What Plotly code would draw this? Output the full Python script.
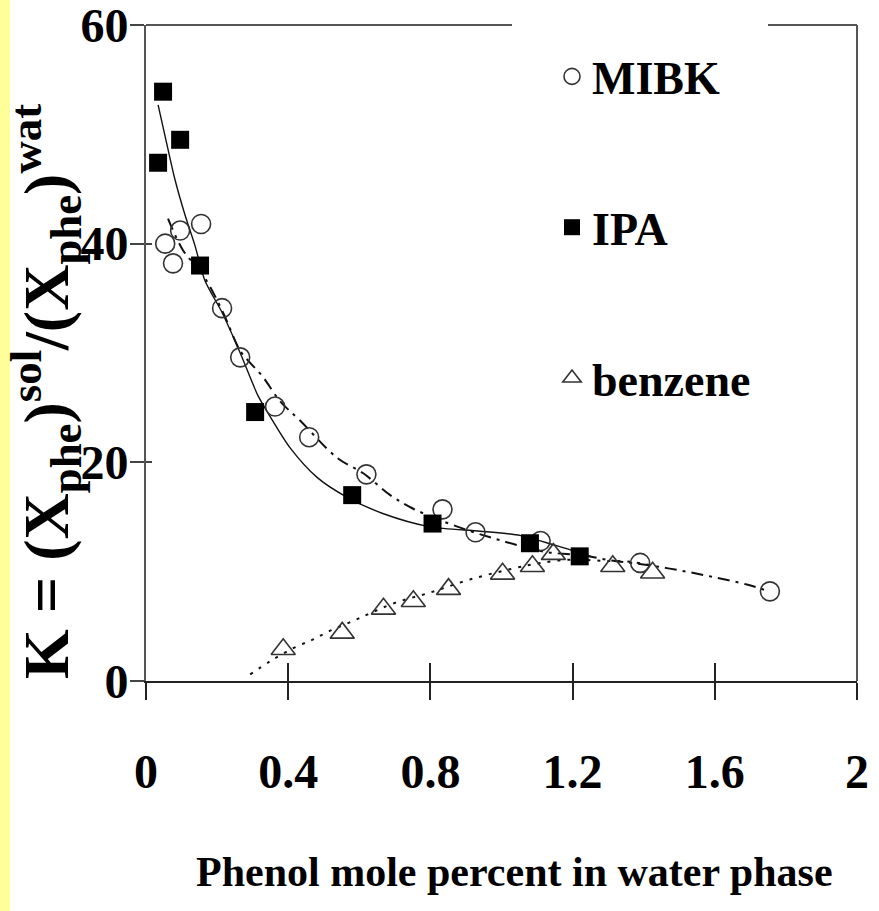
import plotly.graph_objects as go

# ---------------- data ----------------
mibk_x = [0.054, 0.076, 0.096, 0.155, 0.214, 0.265, 0.363, 0.459, 0.620, 0.834, 0.927, 1.110, 1.390, 1.755]
mibk_y = [40.0, 38.2, 41.2, 41.8, 34.1, 29.6, 25.1, 22.3, 18.9, 15.7, 13.6, 12.8, 10.8, 8.2]

ipa_x = [0.034, 0.048, 0.096, 0.152, 0.307, 0.580, 0.806, 1.080, 1.220]
ipa_y = [47.4, 53.9, 49.5, 38.0, 24.6, 17.0, 14.4, 12.6, 11.4]

benz_x = [0.386, 0.552, 0.668, 0.752, 0.851, 1.003, 1.087, 1.146, 1.313, 1.425]
benz_y = [2.9, 4.4, 6.6, 7.3, 8.4, 9.8, 10.5, 11.6, 10.5, 9.9]

# fitted curves
ipa_fit_x = [0.034, 0.056, 0.082, 0.110, 0.138, 0.166, 0.214, 0.265, 0.315, 0.349, 0.406,
             0.482, 0.566, 0.668, 0.800, 0.941, 1.054, 1.152, 1.251]
ipa_fit_y = [52.7, 49.5, 45.8, 42.6, 39.8, 36.6, 33.7, 30.0, 26.1, 24.2, 21.3,
             18.6, 16.8, 15.3, 14.1, 13.7, 13.3, 12.4, 11.4]

mibk_fit_x = [0.062, 0.104, 0.161, 0.214, 0.265, 0.293, 0.327, 0.377, 0.434, 0.538, 0.611, 0.687,
              0.749, 0.828, 0.913, 0.983, 1.048, 1.124, 1.223, 1.315, 1.411, 1.504, 1.597, 1.693, 1.752]
mibk_fit_y = [42.3, 39.4, 37.1, 33.9, 30.2, 29.1, 27.9, 25.6, 23.8, 20.4, 19.0, 17.0,
              15.8, 14.7, 13.7, 13.0, 12.4, 11.8, 11.5, 11.0, 10.6, 10.1, 9.5, 8.8, 8.2]

benz_fit_x = [0.293, 0.349, 0.414, 0.470, 0.518, 0.583, 0.631, 0.696, 0.800, 0.913,
              1.034, 1.110, 1.194, 1.279, 1.363, 1.434]
benz_fit_y = [0.6, 1.8, 3.0, 3.8, 4.6, 5.5, 6.2, 7.1, 8.1, 9.3,
              10.3, 10.8, 11.1, 11.0, 10.9, 10.5]

x_tickvals = [0, 0.4, 0.8, 1.2, 1.6, 2]
x_ticktext = ["0", "0.4", "0.8", "1.2", "1.6", "2"]
y_tickvals = [0, 20, 40, 60]
y_ticktext = ["0", "20", "40", "60"]

legend_names = ["MIBK", "IPA", "benzene"]
x_title = "Phenol mole percent in water phase"
y_title = "K = (X<sub>phe</sub>)<sup>sol</sup>/(X<sub>phe</sub>)<sup>wat</sup>"

# ---------------- figure ----------------
W, H = 879, 911
L, R, T, B = 146, 22, 25, 230
PW, PH = W - L - R, H - T - B
FONT = "Liberation Serif"
INK = "#111111"


def px(xp):
    return (xp - L) / PW


def py(yp):
    return (H - B - yp) / PH


fig = go.Figure()

# fitted curves
fig.add_trace(go.Scatter(x=ipa_fit_x, y=ipa_fit_y, mode="lines", line=dict(color=INK, width=1.4, shape="spline", smoothing=0.8),
                         showlegend=False, hoverinfo="skip"))
fig.add_trace(go.Scatter(x=mibk_fit_x, y=mibk_fit_y, mode="lines",
                         line=dict(color=INK, width=2, shape="spline", dash="12px,6px,3px,6px"),
                         showlegend=False, hoverinfo="skip"))
fig.add_trace(go.Scatter(x=benz_fit_x, y=benz_fit_y, mode="lines",
                         line=dict(color=INK, width=2, shape="spline", dash="3px,7px"),
                         showlegend=False, hoverinfo="skip"))

# markers
fig.add_trace(go.Scatter(x=mibk_x, y=mibk_y, mode="markers", name=legend_names[0], legendgroup="a",
                         marker=dict(symbol="circle-open", size=19, color="#333333", line=dict(width=1.6))))
fig.add_trace(go.Scatter(x=ipa_x, y=ipa_y, mode="markers", name=legend_names[1], legendgroup="b",
                         marker=dict(symbol="square", size=18, color="#000000")))
fig.add_trace(go.Scatter(x=benz_x, y=benz_y, mode="markers", name=legend_names[2], legendgroup="c",
                         marker=dict(symbol="triangle-up-open", size=21, color="#333333", line=dict(width=1.6))))

# dummy trace to create the overlay axes (inside tick halves)
fig.add_trace(go.Scatter(x=[None], y=[None], xaxis="x2", yaxis="y2", showlegend=False, hoverinfo="skip"))

tickfont = dict(family=FONT, size=48, color="#000000", weight="bold")

fig.update_layout(
    width=W, height=H,
    margin=dict(l=L, r=R, t=T, b=B, pad=0, autoexpand=False),
    paper_bgcolor="white", plot_bgcolor="white",
    showlegend=True,
    legend=dict(x=px(552), y=py(40), xanchor="left", yanchor="top",
                bgcolor="rgba(0,0,0,0)", font=dict(family=FONT, size=46, color="#000000", weight="bold"),
                traceorder="grouped", tracegroupgap=88, itemsizing="trace"),
    xaxis=dict(range=[0, 2], tickvals=x_tickvals, ticktext=x_ticktext, ticks="outside", ticklen=17,
               tickwidth=2, tickcolor="#222222", showline=True, linecolor="#222222", linewidth=2,
               showgrid=False, zeroline=False, mirror=False, tickfont=tickfont, ticklabelstandoff=30,
               automargin=False, ticklabeloverflow="allow"),
    yaxis=dict(range=[0, 60], tickvals=y_tickvals, ticktext=y_ticktext, ticks="outside", ticklen=14,
               tickwidth=2, tickcolor="#444444", showline=True, linecolor="#555555", linewidth=2,
               showgrid=False, zeroline=False, mirror=False, tickfont=tickfont, ticklabelstandoff=-8,
               automargin=False, ticklabeloverflow="allow"),
    xaxis2=dict(range=[0, 2], overlaying="x", anchor="y", side="bottom", tickvals=x_tickvals,
                ticks="inside", ticklen=18, tickwidth=2, tickcolor="#222222", showticklabels=False,
                showline=False, showgrid=False, zeroline=False, automargin=False),
    yaxis2=dict(range=[0, 60], overlaying="y", anchor="x", side="left", tickvals=y_tickvals,
                ticks="inside", ticklen=6, tickwidth=2, tickcolor="#444444", showticklabels=False,
                showline=False, showgrid=False, zeroline=False, automargin=False),
)

# frame: right side and interrupted top border
shapes = [
    dict(type="line", xref="paper", yref="paper", x0=1, x1=1, y0=0, y1=1, line=dict(color="#555555", width=2)),
    dict(type="line", xref="paper", yref="paper", x0=0, x1=px(512), y0=1, y1=1, line=dict(color="#555555", width=2)),
    dict(type="line", xref="paper", yref="paper", x0=px(768), x1=1, y0=1, y1=1, line=dict(color="#555555", width=2)),
    # yellow strip on the left edge
    dict(type="rect", xref="paper", yref="paper", x0=px(0), x1=px(10), y0=py(H), y1=py(0),
         fillcolor="#FFFF99", line=dict(width=0), layer="below"),
]
fig.update_layout(shapes=shapes)

fig.add_annotation(text=y_title, xref="paper", yref="paper", x=px(46), y=py(392), textangle=-90,
                   showarrow=False, xanchor="center", yanchor="middle",
                   font=dict(family=FONT, size=64, color="#000000", weight="bold"))
fig.add_annotation(text=x_title, xref="paper", yref="paper", x=px(514), y=py(872),
                   showarrow=False, xanchor="center", yanchor="middle",
                   font=dict(family=FONT, size=42, color="#000000", weight="bold"))

fig.write_html("out.html", config={"displayModeBar": False},
               post_script="document.body.style.margin='0px';document.body.style.overflow='hidden';")
